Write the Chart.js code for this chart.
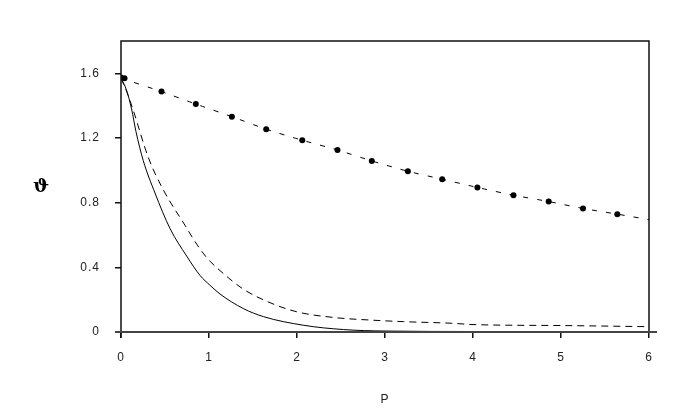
<!DOCTYPE html>
<html>
<head>
<meta charset="utf-8">
<script src="https://cdn.jsdelivr.net/npm/chart.js@4/dist/chart.umd.min.js"></script>
<style>
  html, body { margin: 0; padding: 0; background: #fff; }
  #wrap { width: 695px; height: 417px; position: relative; }
</style>
</head>
<body>
<div id="wrap"><canvas id="thetaChart" width="695" height="417"></canvas></div>
<script>
// --- Data ---
const xTicks = [0, 1, 2, 3, 4, 5, 6];
const yTicks = [0, 0.4, 0.8, 1.2, 1.6];
const yTickLabels = ['0', '0.4', '0.8', '1.2', '1.6'];

// upper series: dots
const dotX = [0.0, 0.04, 0.46, 0.85, 1.26, 1.65, 2.06, 2.46, 2.85, 3.26, 3.65, 4.05, 4.46, 4.86, 5.25, 5.64];
const dotY = [1.575, 1.57, 1.487, 1.41, 1.332, 1.254, 1.186, 1.126, 1.058, 0.994, 0.945, 0.894, 0.846, 0.807, 0.764, 0.729];

// upper series: dashed line through the dots
const upperX = [0, 0.46, 0.85, 1.26, 1.65, 2.06, 2.46, 2.85, 3.26, 3.65, 4.05, 4.46, 4.86, 5.25, 5.64, 6];
const upperY = [1.57, 1.487, 1.41, 1.332, 1.254, 1.186, 1.126, 1.058, 0.994, 0.945, 0.894, 0.846, 0.807, 0.764, 0.729, 0.695];

// solid curve
const solidX = [0, 0.06, 0.12, 0.17, 0.253, 0.386, 0.557, 0.746, 0.898, 1.01, 1.125, 1.39, 1.62, 2.07, 2.53, 3, 4, 5, 6];
const solidY = [1.57, 1.5, 1.38, 1.24, 1.06, 0.86, 0.64, 0.47, 0.35, 0.29, 0.235, 0.145, 0.095, 0.042, 0.015, 0.006, 0.003, 0.002, 0.002];

// lower dashed curve
const dashX = [0, 0.07, 0.14, 0.31, 0.48, 0.727, 0.84, 0.974, 1.125, 1.39, 1.656, 1.997, 2.45, 2.83, 3.21, 3.76, 4.0, 5, 6];
const dashY = [1.57, 1.48, 1.37, 1.08, 0.88, 0.66, 0.56, 0.46, 0.38, 0.265, 0.19, 0.125, 0.088, 0.074, 0.064, 0.054, 0.046, 0.04, 0.033];

const toPoints = (xs, ys) => xs.map((x, i) => ({ x: x, y: ys[i] }));

// Frame: box around plot + extended bottom axis, and the unrotated y title
const framePlugin = {
  id: 'frame',
  beforeDraw(chart) {
    // the reference prints tick labels with loose letter spacing
    chart.ctx.letterSpacing = '1px';
  },
  afterDraw(chart) {
    const { ctx, chartArea: a } = chart;
    ctx.save();
    ctx.strokeStyle = '#111';
    ctx.lineWidth = 1.5;
    ctx.beginPath();
    ctx.moveTo(a.left, a.bottom + 6);
    ctx.lineTo(a.left, a.top);
    ctx.lineTo(a.right, a.top);
    ctx.lineTo(a.right, a.bottom);
    ctx.stroke();
    ctx.strokeStyle = '#444';
    ctx.lineWidth = 2;
    ctx.beginPath();
    ctx.moveTo(a.left - 6, a.bottom);
    ctx.lineTo(a.right + 8, a.bottom);
    ctx.stroke();

    ctx.letterSpacing = '0px';
    ctx.fillStyle = '#000';
    ctx.font = 'bold 19px "DejaVu Serif"';
    ctx.textAlign = 'center';
    ctx.textBaseline = 'middle';
    ctx.fillText('ϑ', 41, 187);
    ctx.restore();
  }
};

const tickFont = { family: '"Liberation Sans", Arial, sans-serif', size: 12 };

new Chart(document.getElementById('thetaChart'), {
  type: 'scatter',
  data: {
    datasets: [
      {
        label: 'upper',
        data: toPoints(upperX, upperY),
        showLine: true,
        borderColor: '#000',
        borderWidth: 1,
        borderDash: [5, 9],
        pointRadius: 0,
        tension: 0.2
      },
      {
        label: 'dots',
        data: toPoints(dotX, dotY),
        showLine: false,
        backgroundColor: '#000',
        borderColor: '#000',
        pointRadius: 3,
        borderWidth: 0
      },
      {
        label: 'solid',
        data: toPoints(solidX, solidY),
        showLine: true,
        borderColor: '#000',
        borderWidth: 1,
        pointRadius: 0,
        cubicInterpolationMode: 'monotone'
      },
      {
        label: 'dashed',
        data: toPoints(dashX, dashY),
        showLine: true,
        borderColor: '#000',
        borderWidth: 1,
        borderDash: [7, 5],
        pointRadius: 0,
        cubicInterpolationMode: 'monotone'
      }
    ]
  },
  options: {
    responsive: false,
    animation: false,
    devicePixelRatio: 1,
    layout: { padding: { top: 41, right: 46, left: 0, bottom: 0 } },
    plugins: {
      legend: { display: false },
      tooltip: { enabled: false }
    },
    scales: {
      x: {
        type: 'linear',
        min: 0,
        max: 6,
        afterBuildTicks: (axis) => { axis.ticks = xTicks.map(v => ({ value: v })); },
        afterFit: (axis) => { axis.height = 85; },
        border: { display: false },
        grid: { drawOnChartArea: false, tickLength: 6, tickColor: '#111', lineWidth: 1.5 },
        ticks: { font: tickFont, color: '#222', padding: 12, maxRotation: 0 },
        title: {
          display: true,
          text: 'P',
          font: tickFont,
          color: '#222',
          padding: { top: 0, bottom: 10 }
        }
      },
      y: {
        type: 'linear',
        min: 0,
        max: 1.8,
        afterBuildTicks: (axis) => { axis.ticks = yTicks.map(v => ({ value: v })); },
        afterFit: (axis) => { axis.width = 121; },
        border: { display: false },
        grid: { drawOnChartArea: false, tickLength: 6, tickColor: '#111', lineWidth: 1.5 },
        ticks: {
          font: tickFont,
          color: '#222',
          padding: 15,
          callback: (value) => yTickLabels[yTicks.indexOf(value)]
        }
      }
    }
  },
  plugins: [framePlugin]
});
</script>
</body>
</html>
